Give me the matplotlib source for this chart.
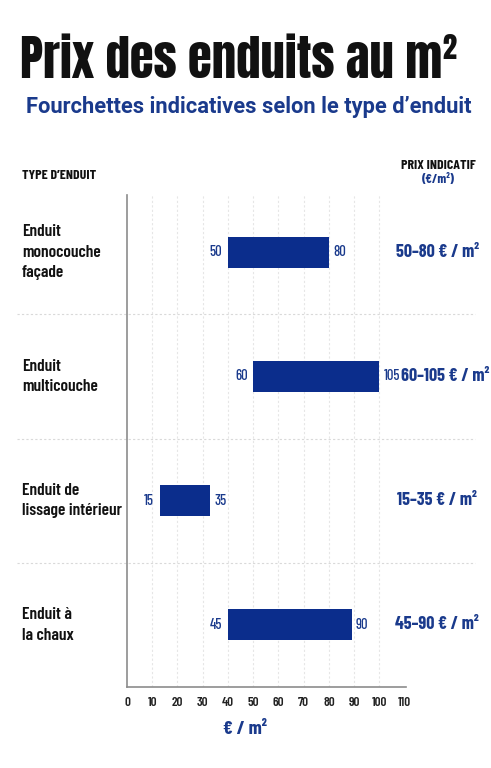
import matplotlib
matplotlib.use("Agg")
import matplotlib.pyplot as plt
from matplotlib.transforms import blended_transform_factory

# ---- data ----
categories = ["Enduit\nmonocouche\nfaçade", "Enduit\nmulticouche",
              "Enduit de\nlissage intérieur", "Enduit à\nla chaux"]
bar_start = [40, 50, 13, 40]          # drawn bar extents (as in the picture)
bar_end = [80, 100, 33, 89]
low_labels = ["50", "60", "15", "45"]
high_labels = ["80", "105", "35", "90"]
price_labels = ["50–80 € / m²", "60–105 € / m²", "15–35 € / m²", "45–90 € / m²"]
xticks = [0, 10, 20, 30, 40, 50, 60, 70, 80, 90, 100, 110]

W, H = 491, 768
NAVY = "#0b2d8c"
NAVY_T = "#1a3a8c"
BLACK = "#111111"

TITLE_F = ["Anton", "Oswald", "DejaVu Sans"]
COND_F = ["Barlow Condensed", "Roboto Condensed", "DejaVu Sans"]
SUB_F = ["Roboto", "DejaVu Sans"]

fig = plt.figure(figsize=(W / 100, H / 100), dpi=100)
fig.patch.set_facecolor("white")

def fx(px):
    return px / W

def fy(py):
    return 1 - py / H

ax = fig.add_axes([fx(127), fy(687), fx(406) - fx(127), (687 - 195) / H])
ax.set_xlim(0, 110.5)
ax.set_ylim(3.5, -0.46)

# vertical light grid
for x in xticks[1:-1]:
    ax.axvline(x, color="#e6e6e6", lw=0.8, ls=(0, (2, 2)), zorder=0)

# row separators (extend beyond the axes)
for y in [0.5, 1.5, 2.5]:
    ax.axhline(y, xmin=(17 - 127) / 279, xmax=(475 - 127) / 279, color="#d9d9d9",
               lw=0.8, ls=(0, (2, 2)), clip_on=False, zorder=0)

rows = list(range(len(categories)))
widths = [e - s for s, e in zip(bar_start, bar_end)]
ax.barh(rows, widths, left=bar_start, height=0.25, color=NAVY, zorder=3)

for r, s, e, lo, hi in zip(rows, bar_start, bar_end, low_labels, high_labels):
    ax.annotate(lo, (s, r), xytext=(-4, 0), textcoords="offset points", ha="right",
                va="center", fontsize=10.5, fontweight=500, color=NAVY_T, family=COND_F)
    ax.annotate(hi, (e, r), xytext=(3, 0), textcoords="offset points", ha="left",
                va="center", fontsize=10.5, fontweight=500, color=NAVY_T, family=COND_F)

tr = blended_transform_factory(fig.transFigure, ax.transData)
price_x = [438, 445, 437, 437]   # horizontal centre of each price label, in pixels
for r, cat, pl, px in zip(rows, categories, price_labels, price_x):
    ax.text(fx(22), r, cat, transform=tr, ha="left", va="center", fontsize=12.5,
            fontweight=600, color=BLACK, family=COND_F, linespacing=1.45)
    ax.text(fx(px), r, pl, transform=tr, ha="center", va="center", fontsize=13,
            fontweight=700, color=NAVY_T, family=COND_F)

# axes styling
for side in ["top", "right"]:
    ax.spines[side].set_visible(False)
for side in ["left", "bottom"]:
    ax.spines[side].set_color("#8c8c8c")
    ax.spines[side].set_linewidth(1.2)
ax.set_yticks([])
ax.set_xticks(xticks)
ax.set_xticklabels([str(t) for t in xticks], fontsize=9.5, color="#222222",
                   family=COND_F, fontweight=600)
ax.tick_params(axis="x", length=0, pad=7.5)

# texts
def fit_width(t, target_px):
    fig.canvas.draw()
    bb = t.get_window_extent()
    t.set_fontsize(t.get_fontsize() * target_px / bb.width)

title = fig.text(fx(20), fy(78), "Prix des enduits au m²", ha="left", va="baseline",
                 fontsize=37, color=BLACK, family=TITLE_F)
fit_width(title, 437)
sub = fig.text(fx(26), fy(113), "Fourchettes indicatives selon le type d’enduit",
               ha="left", va="baseline", fontsize=14, fontweight="bold", color=NAVY_T,
               family=SUB_F)
fit_width(sub, 447)
fig.text(fx(22), fy(179), "TYPE D’ENDUIT", ha="left", va="baseline", fontsize=10,
         fontweight=700, color=BLACK, family=COND_F)
fig.text(fx(438), fy(169), "PRIX INDICATIF", ha="center", va="baseline", fontsize=10,
         fontweight=700, color=BLACK, family=COND_F)
fig.text(fx(438), fy(183), "(€/m²)", ha="center", va="baseline", fontsize=9.5,
         fontweight=700, color=NAVY_T, family=COND_F)
fig.text(fx(245), fy(729), "€ / m²", ha="center", va="center", fontsize=14,
         fontweight=700, color=NAVY_T, family=COND_F)

fig.savefig("out.png", dpi=100, facecolor="white")
